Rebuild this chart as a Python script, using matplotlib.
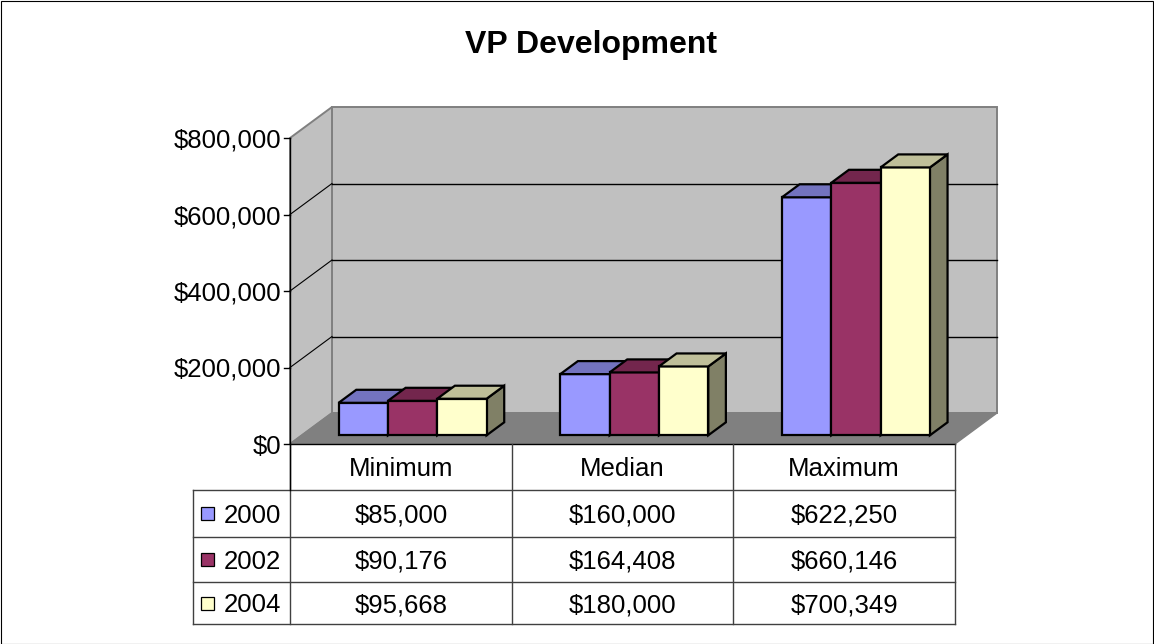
import numpy as np
import matplotlib.pyplot as plt
from matplotlib.patches import Polygon, Rectangle
from matplotlib.lines import Line2D
from matplotlib.transforms import IdentityTransform
from matplotlib.colors import to_rgb

# data
categories = ["Minimum", "Median", "Maximum"]
years = ["2000", "2002", "2004"]
val_2000 = [85000, 160000, 622250]
val_2002 = [90176, 164408, 660146]
val_2004 = [95668, 180000, 700349]
series = [val_2000, val_2002, val_2004]
colors = ["#9999FF", "#993366", "#FFFFCC"]
y_ticks = [0, 200000, 400000, 600000, 800000]

W, H = 1154, 644
plt.rcParams['font.family'] = ['Liberation Sans', 'DejaVu Sans']
fig = plt.figure(figsize=(W / 100, H / 100), dpi=100)
ax = fig.add_axes([290 / W, 200 / H, 665 / W, 306 / H])
ax.set_xlim(-0.5, 2.5)
ax.set_ylim(0, 800000)
ax.axis('off')

DX, DY = 42, 31      # depth of the floor, pixels
F0, F1 = 0.28, 0.70  # bar front / back depth fraction
bw = 0.2225          # bar width in category units
FS = 18.5
ident = IdentityTransform()


def pt(x, y, f=0.0):
    px, py = ax.transData.transform((x, y))
    return (px + f * DX, py + f * DY)


def poly(pts, fc, ec, lw, z):
    fig.add_artist(Polygon(pts, closed=True, facecolor=fc, edgecolor=ec,
                           linewidth=lw, transform=ident, zorder=z))


def line(p0, p1, color, lw, z):
    fig.add_artist(Line2D([p0[0], p1[0]], [p0[1], p1[1]], color=color,
                          linewidth=lw, transform=ident, zorder=z))


def shade(c, k):
    return tuple(np.array(to_rgb(c)) * k)


def top(y):
    # pixel measured from the top of the image -> display y
    return H - y


x0, x1 = -0.5, 2.5
ymax = y_ticks[-1]

# walls and floor
poly([pt(x0, 0, 1), pt(x1, 0, 1), pt(x1, ymax, 1), pt(x0, ymax, 1)],
     "#C0C0C0", "#808080", 1.4, 1)
poly([pt(x0, 0, 0), pt(x0, ymax, 0), pt(x0, ymax, 1), pt(x0, 0, 1)],
     "#C0C0C0", "#808080", 1.4, 1)
poly([pt(x0, 0, 0), pt(x1, 0, 0), pt(x1, 0, 1), pt(x0, 0, 1)],
     "#808080", "#808080", 1.0, 2)

for v in y_ticks[1:-1]:
    line(pt(x0, v, 1), pt(x1, v, 1), "black", 1.0, 3)
    line(pt(x0, v, 0), pt(x0, v, 1), "black", 0.8, 3)

# bars
for i, cat in enumerate(categories):
    for j, vals in enumerate(series):
        v = vals[i]
        a = i - 1.5 * bw + j * bw
        b = a + bw
        c = colors[j]
        z = 5 + i * 3 + j
        poly([pt(b, 0, F0), pt(b, 0, F1), pt(b, v, F1), pt(b, v, F0)],
             shade(c, 0.5), "black", 1.6, z)
        poly([pt(a, 0, F0), pt(b, 0, F0), pt(b, v, F0), pt(a, v, F0)],
             c, "black", 1.6, z)
        poly([pt(a, v, F0), pt(b, v, F0), pt(b, v, F1), pt(a, v, F1)],
             shade(c, 0.75), "black", 1.6, z)

# value axis
ax_x, ax_y0 = pt(x0, 0)
_, ax_y1 = pt(x0, ymax)
rows = [444, 489.5, 537, 581.5, 624]
line((ax_x, ax_y1), (ax_x, top(rows[1])), "black", 1.0, 30)
for v in y_ticks:
    px, py = pt(x0, v)
    line((px - 6, py), (px, py), "black", 1.0, 30)
    fig.text(px - 9, py, f"${v:,}", transform=ident, ha="right",
             va="center_baseline", fontsize=FS)

# data table
tcol = "#404040"
col_x = [pt(x0 + k, 0)[0] for k in range(4)]
leg_x = 193
line((col_x[0], top(rows[0])), (col_x[-1], top(rows[0])), "black", 1.0, 25)
for r in rows[1:]:
    line((leg_x, top(r)), (col_x[-1], top(r)), tcol, 1.0, 25)
for cx in col_x:
    line((cx, top(rows[0])), (cx, top(rows[-1])), tcol, 1.0, 25)
line((leg_x, top(rows[1])), (leg_x, top(rows[-1])), tcol, 1.0, 25)

for k, cat in enumerate(categories):
    cx = (col_x[k] + col_x[k + 1]) / 2
    fig.text(cx, top((rows[0] + rows[1]) / 2), cat, transform=ident,
             ha="center", va="center_baseline", fontsize=FS)

for j, (yr, vals) in enumerate(zip(years, series)):
    ym = top((rows[j + 1] + rows[j + 2]) / 2)
    fig.add_artist(Rectangle((201, ym - 7), 13, 13, facecolor=colors[j],
                             edgecolor="black", linewidth=0.9,
                             transform=ident, zorder=26))
    fig.text(224, ym, yr, transform=ident, ha="left",
             va="center_baseline", fontsize=FS)
    for k, v in enumerate(vals):
        cx = (col_x[k] + col_x[k + 1]) / 2
        fig.text(cx, ym, f"${v:,}", transform=ident, ha="center",
                 va="center_baseline", fontsize=FS)

# title
fig.text(591, top(53), "VP Development", transform=ident, ha="center",
         va="baseline", fontsize=23, fontweight="bold")

# outer border
fig.add_artist(Rectangle((0.5, 0.5), W - 1.5, H - 1.5, facecolor="none",
                         edgecolor="black", linewidth=0.8, transform=ident))

fig.savefig("out.png", dpi=100)
